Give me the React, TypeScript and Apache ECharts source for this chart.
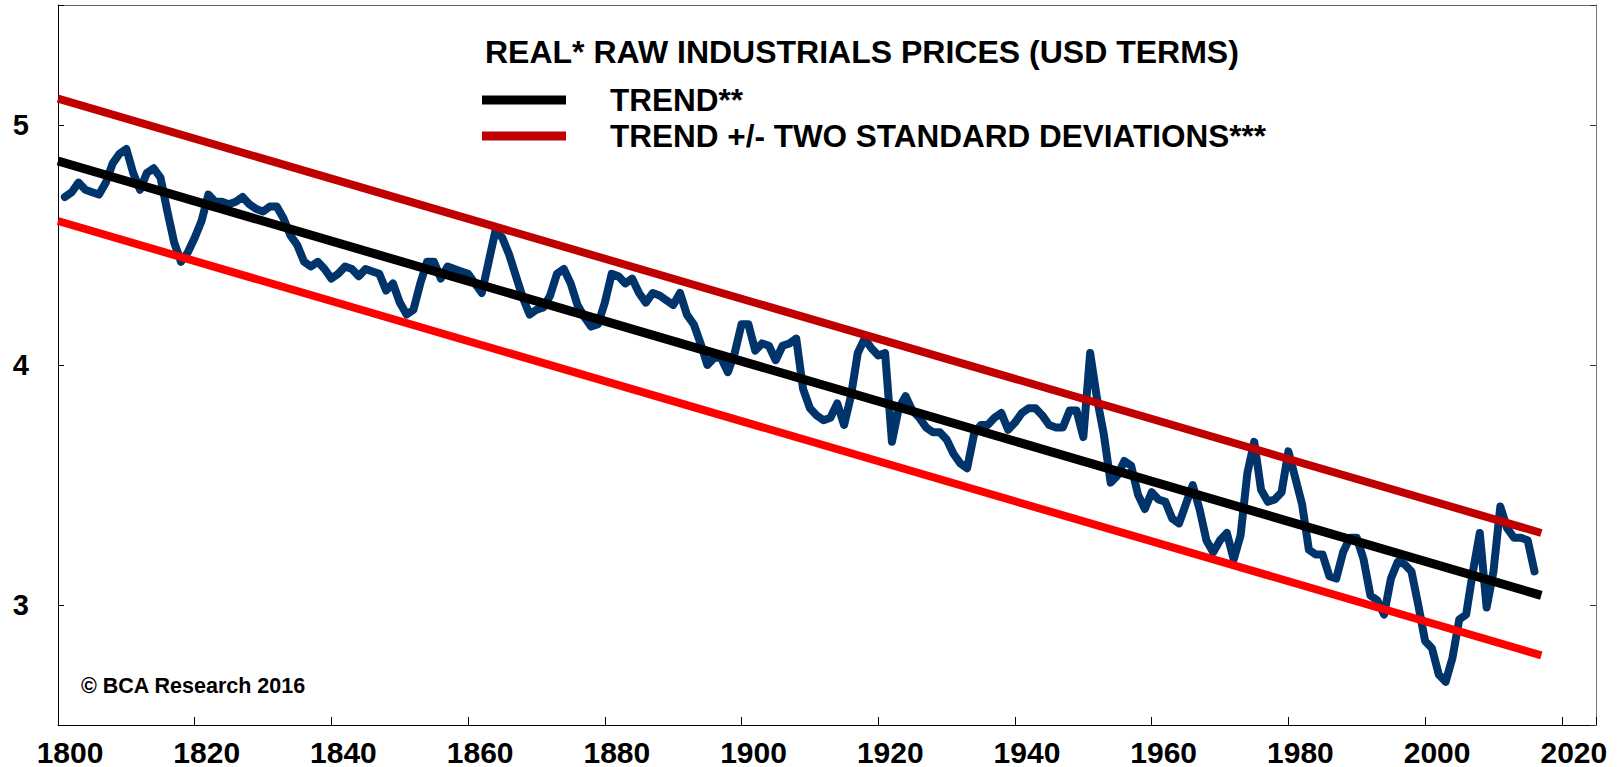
import React, { useEffect, useRef } from "react";
import * as echarts from "echarts";

// ---- Data ----
const TITLE = "REAL* RAW INDUSTRIALS PRICES (USD TERMS)";
const TREND_NAME = "TREND**";
const BAND_NAME = "TREND +/- TWO STANDARD DEVIATIONS***";
const COPYRIGHT = "© BCA Research 2016";

const priceStartYear = 1801;
// annual values 1801 .. 2016 (log scale of real raw industrials prices)
const priceValues = [
  4.70, 4.72, 4.76, 4.73, 4.72, 4.71, 4.76, 4.84, 4.88, 4.90, // 1801-1810
  4.80, 4.73, 4.80, 4.82, 4.78, 4.64, 4.51, 4.43, 4.47, 4.53, // 1811-1820
  4.60, 4.71, 4.68, 4.68, 4.67, 4.68, 4.70, 4.67, 4.65, 4.64, // 1821-1830
  4.66, 4.66, 4.61, 4.54, 4.50, 4.43, 4.41, 4.43, 4.40, 4.36, // 1831-1840
  4.38, 4.41, 4.40, 4.37, 4.40, 4.39, 4.38, 4.31, 4.34, 4.26, // 1841-1850
  4.21, 4.23, 4.34, 4.43, 4.43, 4.36, 4.41, 4.40, 4.39, 4.38, // 1851-1860
  4.34, 4.30, 4.43, 4.56, 4.53, 4.46, 4.37, 4.28, 4.21, 4.23, // 1861-1870
  4.24, 4.29, 4.38, 4.40, 4.34, 4.25, 4.20, 4.16, 4.17, 4.26, // 1871-1880
  4.38, 4.37, 4.34, 4.36, 4.30, 4.26, 4.30, 4.29, 4.27, 4.25, // 1881-1890
  4.30, 4.21, 4.17, 4.09, 4.00, 4.03, 4.03, 3.97, 4.05, 4.17, // 1891-1900
  4.17, 4.06, 4.09, 4.08, 4.02, 4.08, 4.09, 4.11, 3.90, 3.82, // 1901-1910
  3.79, 3.77, 3.78, 3.84, 3.75, 3.87, 4.05, 4.11, 4.07, 4.04, // 1911-1920
  4.05, 3.68, 3.82, 3.87, 3.81, 3.78, 3.74, 3.72, 3.72, 3.69, // 1921-1930
  3.63, 3.59, 3.57, 3.71, 3.75, 3.75, 3.78, 3.80, 3.73, 3.76, // 1931-1940
  3.80, 3.82, 3.82, 3.79, 3.75, 3.74, 3.74, 3.81, 3.81, 3.70, // 1941-1950
  4.05, 3.86, 3.71, 3.51, 3.54, 3.60, 3.58, 3.46, 3.40, 3.47, // 1951-1960
  3.44, 3.43, 3.36, 3.34, 3.42, 3.50, 3.40, 3.27, 3.22, 3.27, // 1961-1970
  3.30, 3.19, 3.29, 3.55, 3.68, 3.48, 3.43, 3.44, 3.47, 3.64, // 1971-1980
  3.53, 3.42, 3.23, 3.21, 3.21, 3.12, 3.11, 3.22, 3.28, 3.28, // 1981-1990
  3.19, 3.04, 3.02, 2.96, 3.11, 3.18, 3.17, 3.14, 3.00, 2.85, // 1991-2000
  2.82, 2.71, 2.68, 2.78, 2.94, 2.96, 3.14, 3.30, 2.99, 3.14, // 2001-2010
  3.41, 3.32, 3.28, 3.28, 3.27, 3.14,                         // 2011-2016
];

const trendYears = [1800, 2017];
const trendValues = [4.85, 3.04];
const upperBandValues = [5.11, 3.3];
const lowerBandValues = [4.6, 2.79];

const xTickLabels = [1800, 1820, 1840, 1860, 1880, 1900, 1920, 1940, 1960, 1980, 2000, 2020];
const yTickLabels = [3, 4, 5];

const FONT = "'Liberation Sans', Arial, Helvetica, sans-serif";

export default function App() {
  const ref = useRef<HTMLDivElement | null>(null);

  useEffect(() => {
    document.body.style.margin = "0";
    if (!ref.current) return;
    const chart = echarts.init(ref.current, null, { renderer: "svg" });

    const priceData = priceValues.map((v, i) => [priceStartYear + i, v]);
    const trendData = trendYears.map((y, i) => [y, trendValues[i]]);
    const upperData = trendYears.map((y, i) => [y, upperBandValues[i]]);
    const lowerData = trendYears.map((y, i) => [y, lowerBandValues[i]]);

    const option: any = {
      animation: false,
      backgroundColor: "#ffffff",
      textStyle: { fontFamily: FONT },
      title: {
        text: TITLE,
        left: 485,
        top: 34,
        padding: 0,
        textStyle: {
          fontFamily: FONT,
          fontSize: 32,
          fontWeight: "bold",
          color: "#000",
          lineHeight: 36,
        },
      },
      legend: {
        orient: "vertical",
        left: 482,
        top: 82,
        padding: 0,
        itemGap: 0,
        itemWidth: 84,
        itemHeight: 9,
        icon: "rect",
        selectedMode: false,
        data: [TREND_NAME, BAND_NAME],
        textStyle: {
          fontFamily: FONT,
          fontSize: 31.5,
          fontWeight: "bold",
          color: "#000",
          lineHeight: 36,
          padding: [0, 0, 0, 39],
        },
      },
      grid: { left: 58, right: 24, top: 5, bottom: 42, containLabel: false },
      xAxis: [
        {
          type: "value",
          min: 1800,
          max: 2025,
          interval: 20,
          axisLine: { lineStyle: { color: "#000", width: 1 } },
          axisTick: { inside: true, length: 8, lineStyle: { color: "#000", width: 1 } },
          splitLine: { show: false },
          axisLabel: {
            formatter: (v: number) => (xTickLabels.indexOf(v) >= 0 ? String(v) : ""),
            fontFamily: FONT,
            fontSize: 30,
            fontWeight: "bold",
            color: "#000",
            margin: 13,
            lineHeight: 28,
            padding: [0, 0, 0, 24],
          },
        },
        {
          type: "value",
          position: "top",
          min: 1800,
          max: 2025,
          interval: 20,
          axisLine: { lineStyle: { color: "#666", width: 1 } },
          axisTick: { show: false },
          axisLabel: { show: false },
          splitLine: { show: false },
        },
      ],
      yAxis: [
        {
          type: "value",
          min: 2.5,
          max: 5.5,
          splitNumber: 3,
          axisLine: { show: true, lineStyle: { color: "#000", width: 1 } },
          axisTick: { show: true, inside: true, length: 6, lineStyle: { color: "#000", width: 1 } },
          splitLine: { show: false },
          axisLabel: {
            formatter: (v: number) => (yTickLabels.indexOf(v) >= 0 ? String(v) : ""),
            fontFamily: FONT,
            fontSize: 29,
            fontWeight: "bold",
            color: "#000",
            margin: 29,
          },
        },
        {
          type: "value",
          position: "right",
          min: 2.5,
          max: 5.5,
          splitNumber: 3,
          axisLine: { show: true, lineStyle: { color: "#777", width: 1 } },
          axisTick: { show: true, inside: true, length: 6, lineStyle: { color: "#333", width: 1 } },
          splitLine: { show: false },
          axisLabel: { show: false },
        },
      ],
      graphic: [
        {
          type: "text",
          x: 81,
          y: 686,
          style: {
            text: COPYRIGHT,
            fontFamily: FONT,
            fontSize: 21.5,
            fontWeight: "bold",
            fill: "#000",
            align: "left",
            verticalAlign: "middle",
          },
        },
      ],
      series: [
        {
          name: "REAL RAW INDUSTRIALS PRICES",
          type: "line",
          data: priceData,
          showSymbol: false,
          symbol: "none",
          silent: true,
          itemStyle: { color: "#00346A" },
          lineStyle: { color: "#00346A", width: 8, cap: "round", join: "round" },
          z: 2,
        },
        {
          name: BAND_NAME,
          type: "line",
          data: upperData,
          showSymbol: false,
          symbol: "none",
          silent: true,
          itemStyle: { color: "#C00000" },
          lineStyle: { color: "#C00000", width: 8, cap: "butt" },
          z: 3,
        },
        {
          name: BAND_NAME,
          type: "line",
          data: lowerData,
          showSymbol: false,
          symbol: "none",
          silent: true,
          itemStyle: { color: "#FF0000" },
          lineStyle: { color: "#FF0000", width: 8, cap: "butt" },
          z: 3,
        },
        {
          name: TREND_NAME,
          type: "line",
          data: trendData,
          showSymbol: false,
          symbol: "none",
          silent: true,
          itemStyle: { color: "#000000" },
          lineStyle: { color: "#000000", width: 9, cap: "butt" },
          z: 4,
        },
      ],
    };

    chart.setOption(option);
    return () => chart.dispose();
  }, []);

  return <div ref={ref} style={{ width: 1620, height: 767 }} />;
}
